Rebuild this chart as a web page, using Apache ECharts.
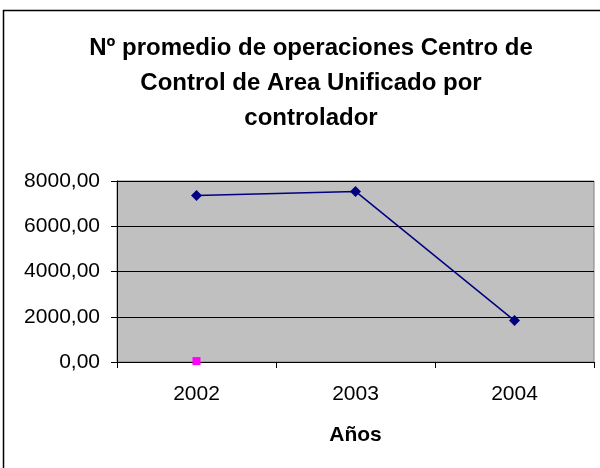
<!DOCTYPE html>
<html>
<head>
<meta charset="utf-8">
<script src="https://cdn.jsdelivr.net/npm/echarts@6/dist/echarts.min.js"></script>
<style>
  html, body { margin: 0; padding: 0; background: #fff; }
  #chart { width: 600px; height: 468px; }
</style>
</head>
<body>
<div id="chart"></div>
<script>
const years = ['2002', '2003', '2004']
const operaciones = [7360, 7540, 1830]
const otraSerie = [40, null, null]
const titleText = 'Nº promedio de operaciones Centro de\nControl de Area Unificado por\ncontrolador'

const chart = echarts.init(document.getElementById('chart'), null, { renderer: 'canvas' })
const font = '"Liberation Sans", Arial, sans-serif'

chart.setOption({
  animation: false,
  backgroundColor: '#fff',
  textStyle: { fontFamily: font },
  title: {
    text: titleText,
    left: 306,
    top: 26,
    textAlign: 'center',
    textStyle: {
      fontFamily: font,
      fontSize: 24,
      fontWeight: 'bold',
      color: '#000',
      lineHeight: 35
    }
  },
  graphic: [
    {
      type: 'rect',
      shape: { x: 3.5, y: 10.5, width: 700, height: 600 },
      style: { fill: null, stroke: '#000', lineWidth: 1.5 },
      silent: true
    }
  ],
  grid: {
    left: 117,
    top: 181,
    right: 6,
    bottom: 106,
    show: true,
    backgroundColor: '#C0C0C0',
    borderColor: '#808080',
    borderWidth: 1
  },
  xAxis: {
    type: 'category',
    data: years,
    boundaryGap: true,
    name: 'Años',
    nameLocation: 'middle',
    nameGap: 63,
    nameTextStyle: { fontFamily: font, fontSize: 21, fontWeight: 'bold', color: '#000' },
    axisLine: { lineStyle: { color: '#000', width: 1 } },
    axisTick: { show: true, length: 6, alignWithLabel: false, lineStyle: { color: '#000' } },
    axisLabel: { fontFamily: font, fontSize: 21, color: '#000', margin: 22 },
    splitLine: { show: false }
  },
  yAxis: {
    type: 'value',
    min: 0,
    max: 8000,
    interval: 2000,
    axisLine: { show: true, lineStyle: { color: '#000', width: 1 } },
    axisTick: { show: true, length: 6, lineStyle: { color: '#000' } },
    axisLabel: {
      fontFamily: font,
      fontSize: 21,
      color: '#000',
      margin: 17,
      formatter: (v) => v.toFixed(2).replace('.', ',')
    },
    splitLine: { show: true, lineStyle: { color: '#000', width: 1 } }
  },
  series: [
    {
      name: 'Operaciones',
      type: 'line',
      data: operaciones,
      symbol: 'diamond',
      symbolSize: 11,
      lineStyle: { color: '#000080', width: 1.5 },
      itemStyle: { color: '#000080' },
      z: 3
    },
    {
      name: 'Serie 2',
      type: 'line',
      data: otraSerie,
      symbol: 'rect',
      symbolSize: 8,
      lineStyle: { color: '#FF00FF', width: 1.5 },
      itemStyle: { color: '#FF00FF' },
      z: 4
    }
  ]
})
</script>
</body>
</html>
